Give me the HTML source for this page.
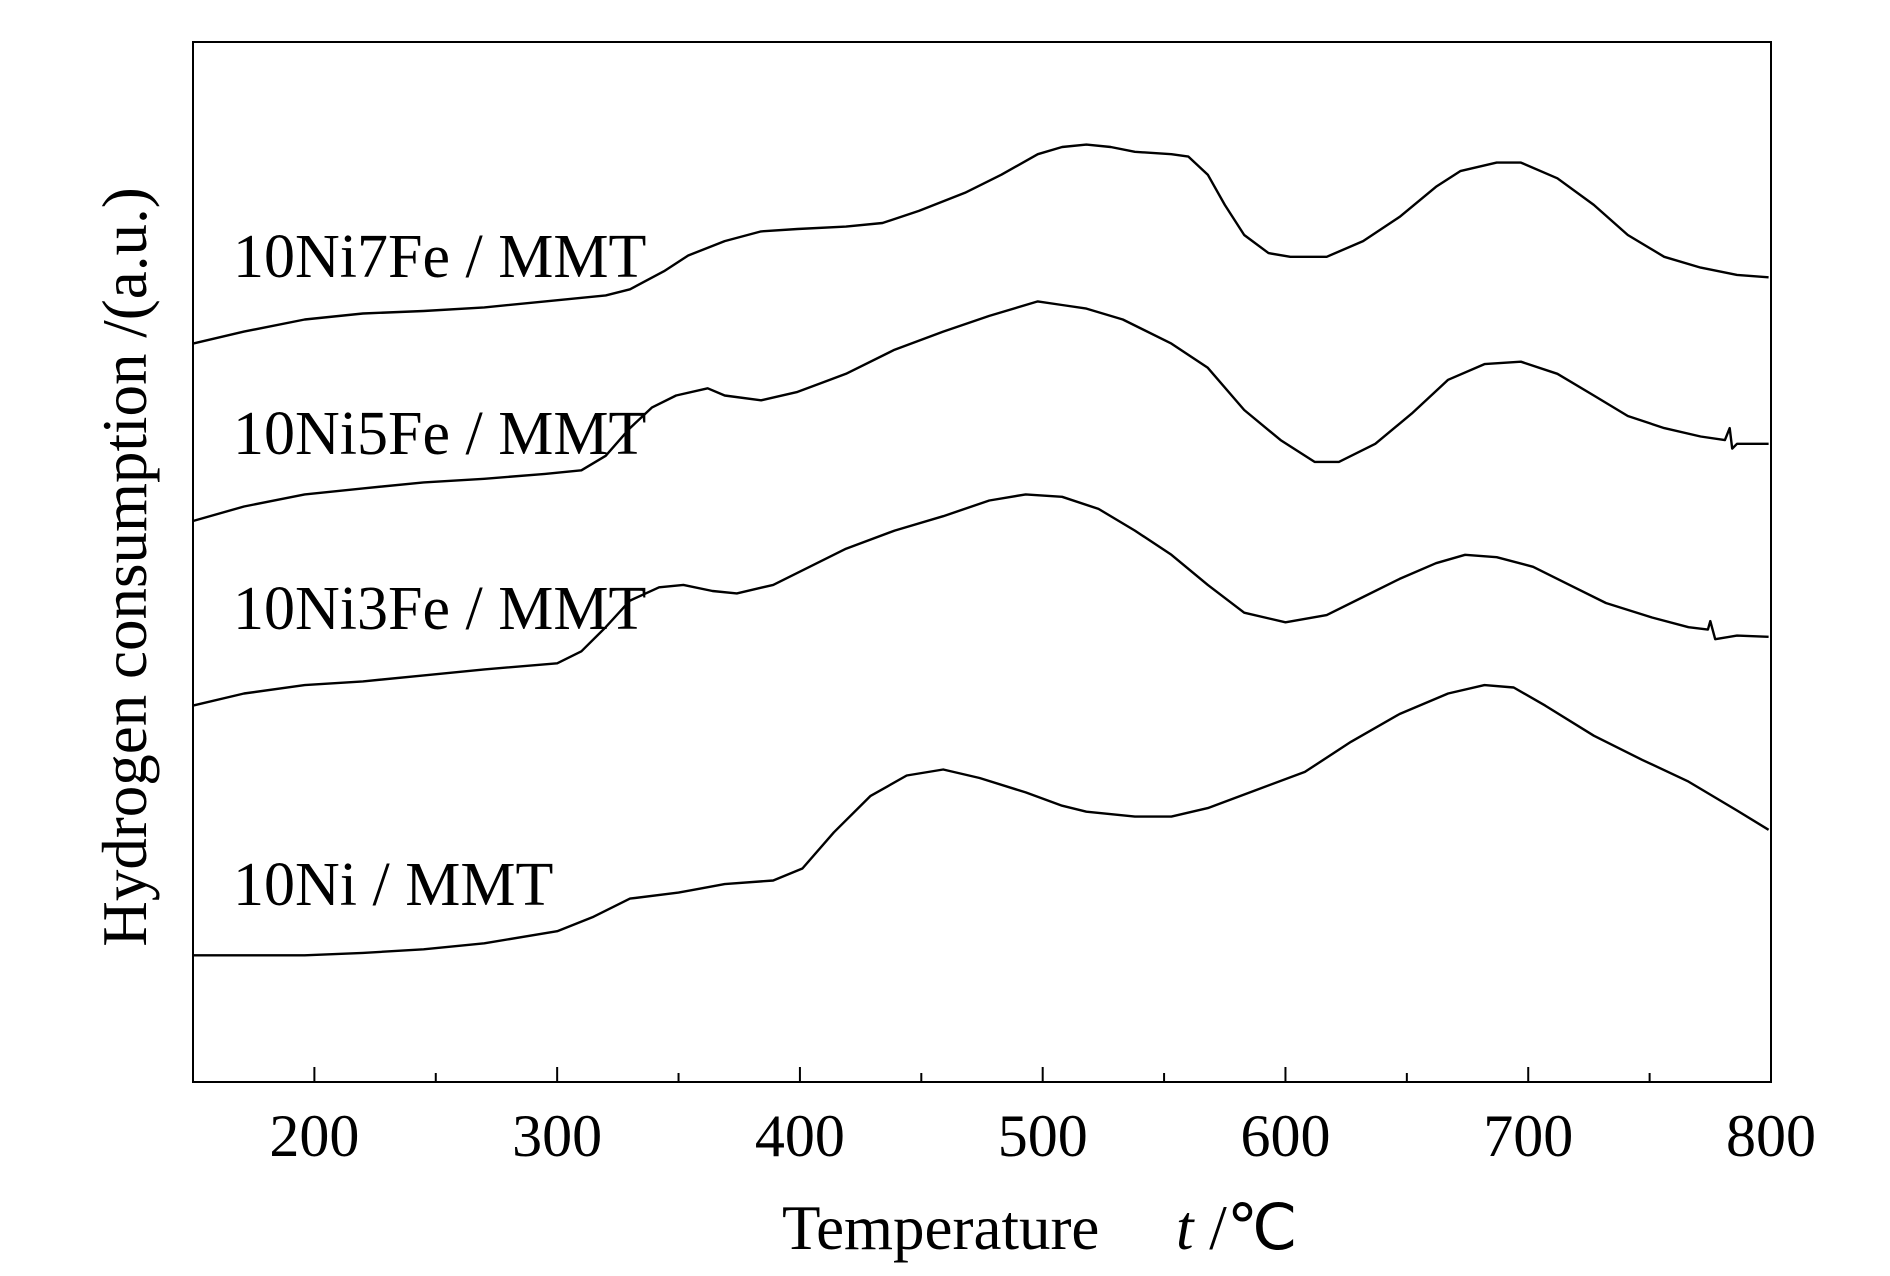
<!DOCTYPE html>
<html><head><meta charset="utf-8"><style>
html,body{margin:0;padding:0;background:#fff;}
svg{display:block;font-family:"Liberation Serif",serif;}
</style></head><body>
<svg id="chart" width="1890" height="1276" viewBox="0 0 1890 1276" xmlns="http://www.w3.org/2000/svg">
<rect x="193" y="42" width="1578" height="1040" fill="none" stroke="#000" stroke-width="2"/>
<g id="ticks"></g>
<g id="series"></g>
<text x="233" y="277" font-size="62">10Ni7Fe / MMT</text>
<text x="233" y="454" font-size="62">10Ni5Fe / MMT</text>
<text x="233" y="629" font-size="62">10Ni3Fe / MMT</text>
<text x="233" y="905" font-size="62">10Ni / MMT</text>
<text x="782" y="1249" font-size="63">Temperature</text>
<text x="1176" y="1249" font-size="63"><tspan font-style="italic">t</tspan> /℃</text>
<text transform="translate(146,567) rotate(-90)" text-anchor="middle" font-size="63">Hydrogen consumption /(a.u.)</text>
</svg>
<script>
const xTicks = [200,300,400,500,600,700,800];
const xMinor = [250,350,450,550,650,750];
const t7 = [150,171,196,220,245,270,295,320,330,344,354,369,384,399,419,434,449,468,483,498,508,518,528,538,553,560,568,575,583,593,602,617,632,647,662,672,687,697,712,727,741,756,771,786,799];
const v7 = [285,275,265,260,258,255,250,245,240,225,212,200,192,190,188,185,175,160,145,128,122,120,122,126,128,130,145,170,195,210,213,213,200,180,155,142,135,135,148,170,195,213,222,228,230];
const t5 = [150,171,196,220,245,270,295,310,320,330,339,349,362,369,384,399,419,439,459,478,498,508,518,533,553,568,583,598,612,622,637,652,667,682,697,712,727,741,756,771,781,783,784,786,799];
const v5 = [432,420,410,405,400,397,393,390,378,355,338,328,322,328,332,325,310,290,275,262,250,253,256,265,285,305,340,365,383,383,368,343,315,302,300,310,328,345,355,362,365,355,372,368,368];
const t3 = [150,171,196,220,245,270,300,310,320,330,342,352,364,374,389,404,419,439,459,478,493,508,523,538,553,568,583,600,617,632,647,662,674,687,702,717,732,751,766,774,775,777,786,799];
const v3 = [585,575,568,565,560,555,550,540,520,498,487,485,490,492,485,470,455,440,428,415,410,412,422,440,460,485,508,516,510,495,480,467,460,462,470,485,500,512,520,522,515,530,527,528];
const t0 = [150,196,220,245,270,300,315,330,350,369,389,401,414,429,444,459,474,493,508,518,538,553,568,588,608,627,647,667,682,694,707,727,747,766,786,799];
const v0 = [792,792,790,787,782,772,760,745,740,733,730,720,690,660,643,638,645,657,668,673,677,677,670,655,640,615,592,575,568,570,585,610,630,648,672,688];

const NS = 'http://www.w3.org/2000/svg';
const X0=193, X1=1771, Y0=42, Y1=1082;
function xs(t){ return X0 + (t-150)/(800-150)*(X1-X0); }
function ys(v){ return Y1 - (897 - v)/862*(Y1-Y0); }

const tg = document.getElementById('ticks');
xTicks.forEach(t=>{
  const l=document.createElementNS(NS,'line');
  l.setAttribute('x1',xs(t));l.setAttribute('x2',xs(t));
  l.setAttribute('y1',Y1);l.setAttribute('y2',Y1-15);
  l.setAttribute('stroke','#000');l.setAttribute('stroke-width','2');
  
  
  tg.appendChild(l);
  const tx=document.createElementNS(NS,'text');
  tx.setAttribute('x',xs(t));tx.setAttribute('y',1156);
  tx.setAttribute('text-anchor','middle');tx.setAttribute('font-size','60');
  tx.textContent=t;
  
  
  tg.appendChild(tx);
});
xMinor.forEach(t=>{
  const l=document.createElementNS(NS,'line');
  l.setAttribute('x1',xs(t));l.setAttribute('x2',xs(t));
  l.setAttribute('y1',Y1);l.setAttribute('y2',Y1-9);
  l.setAttribute('stroke','#000');l.setAttribute('stroke-width','2');
  
  
  tg.appendChild(l);
});

const sg=document.getElementById('series');
[[t7,v7,'line-10ni7fe'],[t5,v5,'line-10ni5fe'],[t3,v3,'line-10ni3fe'],[t0,v0,'line-10ni']].forEach(s=>{
  const p=document.createElementNS(NS,'polyline');
  p.setAttribute('points',s[0].map((t,i)=>xs(t).toFixed(1)+','+ys(s[1][i]).toFixed(1)).join(' '));
  p.setAttribute('fill','none');p.setAttribute('stroke','#000');p.setAttribute('stroke-width','2.4');
  p.setAttribute('stroke-linejoin','round');
  
  
  sg.appendChild(p);
});
</script>
</body></html>
